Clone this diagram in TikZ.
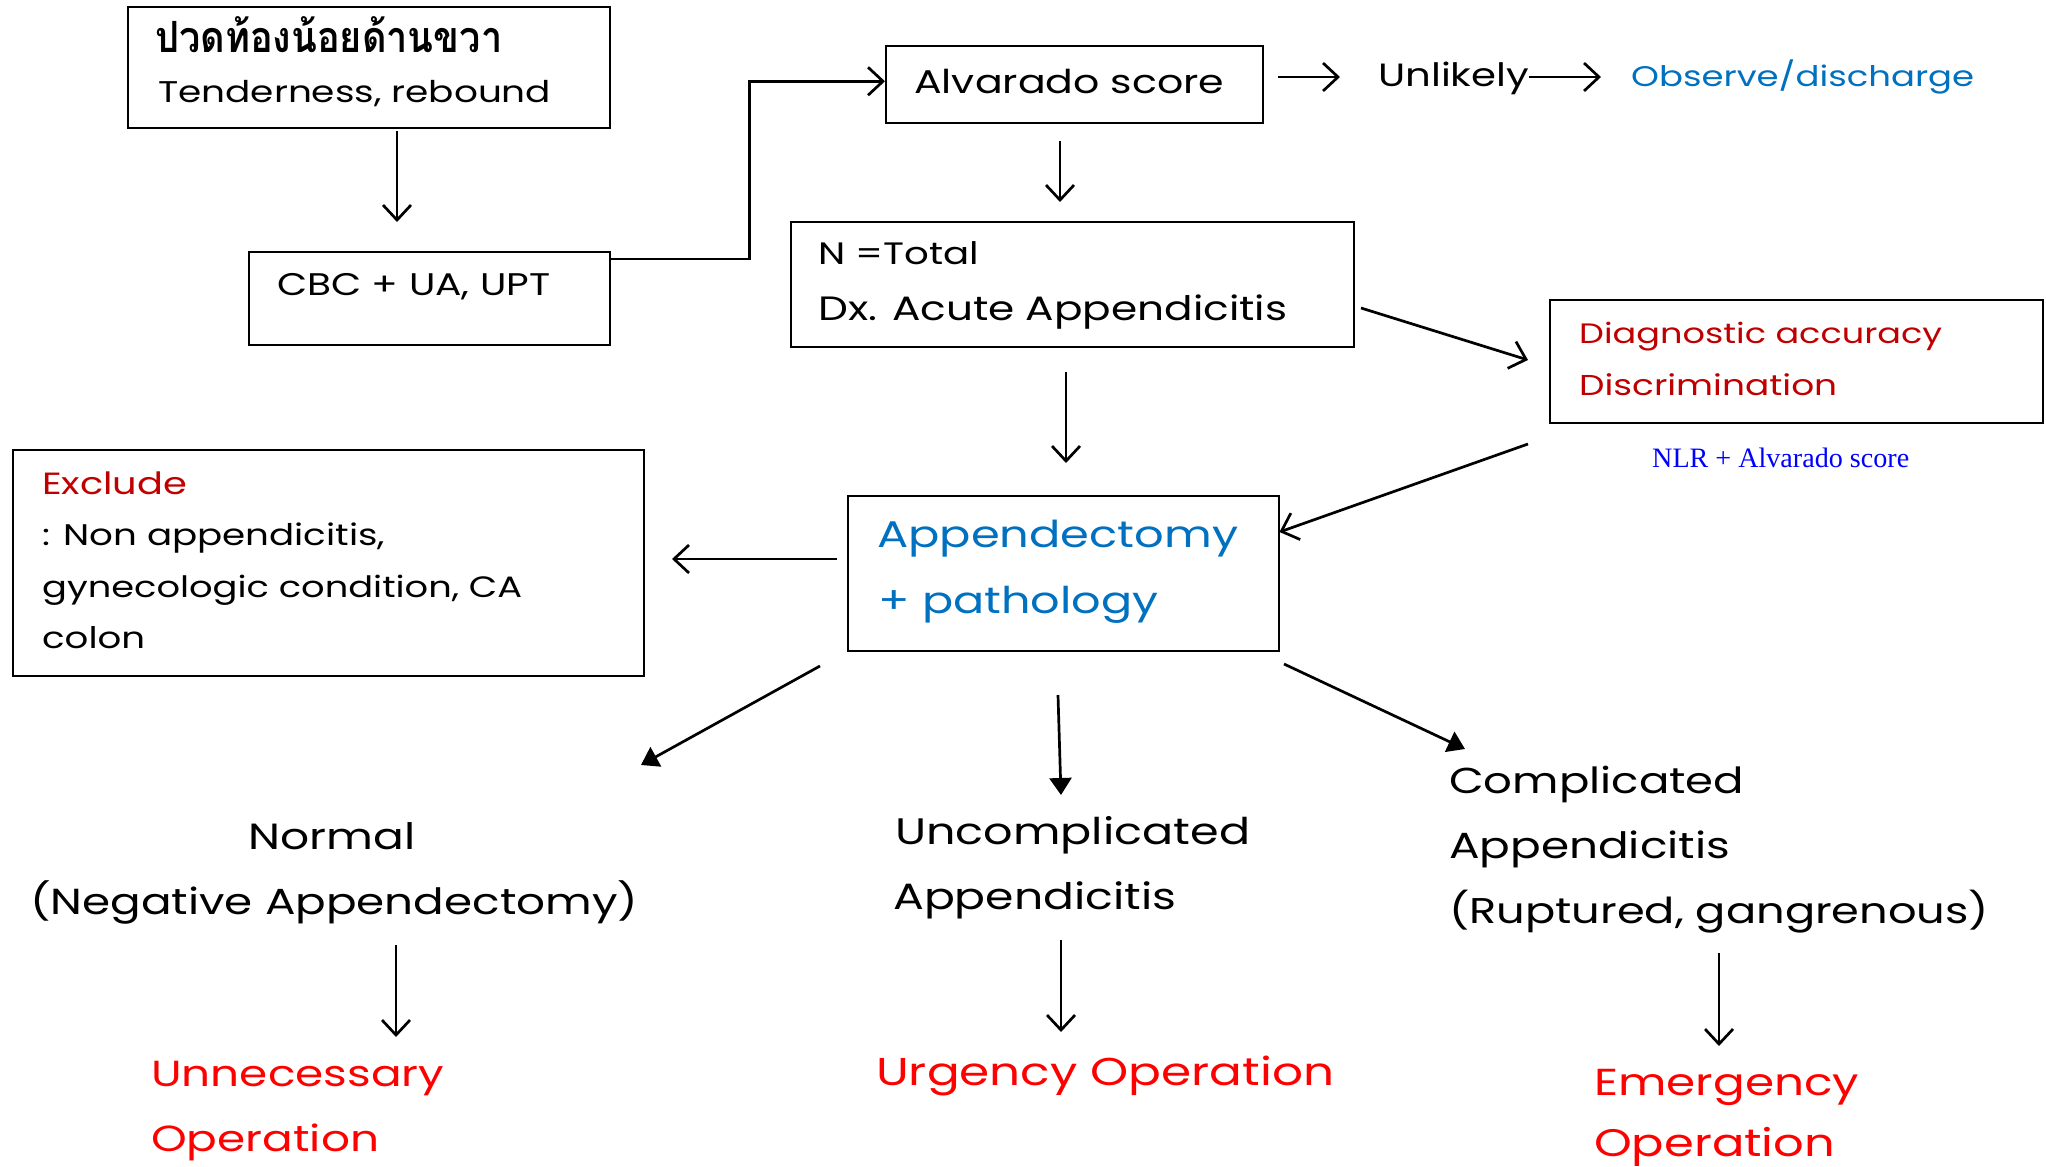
\documentclass[tikz,border=0pt]{standalone}
\usepackage{fontspec}
\setmainfont{Poppins}[FakeStretch=1.25]
\newfontfamily\thaifont[Script=Thai,FakeStretch=0.88]{Loma}
\newfontfamily\nlrfont{Liberation Serif}
\usetikzlibrary{arrows.meta}
\definecolor{oblue}{RGB}{0,112,192}
\definecolor{dred}{RGB}{192,0,0}
\definecolor{bred}{RGB}{255,0,0}
\definecolor{pblue}{RGB}{0,0,255}
\newcommand\fitw[2]{\resizebox{#1pt}{!}{#2}}
\begin{document}
\begin{tikzpicture}[x=1pt,y=-1pt,
  box/.style={draw=black, line width=1.5pt, inner sep=0pt, anchor=north west},
  txt/.style={anchor=base west, inner sep=0pt, font=\fontsize{30}{36}\selectfont},
  arr/.style={line width=2.7pt, -{Straight Barb[length=15pt,width=28pt]}},
  farr/.style={line width=2.7pt, -{Triangle[length=17pt,width=22pt]}}]
\fill[white] (0,0) rectangle (2046,1167);
\useasboundingbox (0,0) rectangle (2046,1167);

% boxes
\node[box, minimum width=482pt, minimum height=121pt] (b1) at (127,6) {};
\node[box, minimum width=361pt, minimum height=93pt] (b2) at (248,251) {};
\node[box, minimum width=377pt, minimum height=77pt] (b3) at (885,45) {};
\node[box, minimum width=563pt, minimum height=125pt] (b4) at (790,221) {};
\node[box, minimum width=493pt, minimum height=123pt] (b5) at (1549,299) {};
\node[box, minimum width=431pt, minimum height=155pt] (b6) at (847,495) {};
\node[box, minimum width=631pt, minimum height=226pt] (b7) at (12,449) {};

% texts
\node[txt] (t1) at (155,52) {\fitw{347}{\thaifont\bfseries ปวดท้องน้อยด้านขวา}};
\node[txt] (t2) at (158,102) {\fitw{393}{Tenderness, rebound}};
\node[txt] (t3) at (277,295) {\fitw{273}{CBC + UA, UPT}};
\node[txt] (t4) at (914,93) {\fitw{310}{Alvarado score}};
\node[txt] (t5) at (1378,86) {\fitw{151}{Unlikely}};
\node[txt, text=oblue] (t6) at (1631,86) {\fitw{343}{Observe/discharge}};
\node[txt] (t7) at (818,264) {\fitw{161}{N =Total}};
\node[txt] (t8) at (818,320) {\fitw{469}{Dx. Acute Appendicitis}};
\node[txt, text=dred] (t9) at (1579,343) {\fitw{363}{Diagnostic accuracy}};
\node[txt, text=dred] (t10) at (1579,395) {\fitw{258}{Discrimination}};
\node[txt, text=pblue] (t11) at (1652,467) {\fitw{257}{\nlrfont NLR + Alvarado score}};
\node[txt, text=oblue] (t12) at (877,547) {\fitw{361}{Appendectomy}};
\node[txt, text=oblue] (t13) at (878,613) {\fitw{280}{+ pathology}};
\node[txt, text=dred] (t14) at (42,494) {\fitw{145}{Exclude}};
\node[txt] (t15) at (42,545) {\fitw{343}{: Non appendicitis,}};
\node[txt] (t16) at (42,597) {\fitw{480}{gynecologic condition, CA}};
\node[txt] (t17) at (42,648) {\fitw{103}{colon}};
\node[txt] (t18) at (248,849) {\fitw{167}{Normal}};
\node[txt] (t19) at (30,914) {\fitw{608}{(Negative Appendectomy)}};
\node[txt, text=bred] (t20) at (151,1086) {\fitw{293}{Unnecessary}};
\node[txt, text=bred] (t21) at (151,1151) {\fitw{228}{Operation}};
\node[txt] (t22) at (895,844) {\fitw{355}{Uncomplicated}};
\node[txt] (t23) at (893,909) {\fitw{283}{Appendicitis}};
\node[txt, text=bred] (t24) at (876,1085) {\fitw{458}{Urgency Operation}};
\node[txt] (t25) at (1449,793) {\fitw{295}{Complicated}};
\node[txt] (t26) at (1449,858) {\fitw{281}{Appendicitis}};
\node[txt] (t27) at (1449,923) {\fitw{540}{(Ruptured, gangrenous)}};
\node[txt, text=bred] (t28) at (1594,1095) {\fitw{265}{Emergency}};
\node[txt, text=bred] (t29) at (1594,1156) {\fitw{241}{Operation}};

% free arrow ends
\coordinate (a1s) at (397,131);  \coordinate (a1e) at (397,222);
\coordinate (a3s) at (1278,77);  \coordinate (a3e) at (1340,77);
\coordinate (a4s) at (1529,77);  \coordinate (a4e) at (1601,77);
\coordinate (a5s) at (1060,141); \coordinate (a5e) at (1060,202);
\coordinate (a6s) at (1361,308); \coordinate (a6e) at (1528,360);
\coordinate (a7s) at (1066,372); \coordinate (a7e) at (1066,463);
\coordinate (a8s) at (1528,444);
\coordinate (a9s) at (837,559);  \coordinate (a9e) at (672,559);
\coordinate (a10s) at (820,666); \coordinate (a10e) at (641,765);
\coordinate (a11s) at (1058,695); \coordinate (a11e) at (1061,795);
\coordinate (a12s) at (1284,664); \coordinate (a12e) at (1465,749);
\coordinate (a13s) at (396,945); \coordinate (a13e) at (396,1037);
\coordinate (a14s) at (1061,940); \coordinate (a14e) at (1061,1032);
\coordinate (a15s) at (1719,953); \coordinate (a15e) at (1719,1046);

% connectors
\draw[arr] (a1s) -- (a1e);
\draw[arr] ([yshift=-8pt]b2.north east) -- ++(139,0) |- ([yshift=3pt]b3.west);
\draw[arr] (a3s) -- (a3e);
\draw[arr] (a4s) -- (a4e);
\draw[arr] (a5s) -- (a5e);
\draw[arr] (a6s) -- (a6e);
\draw[arr] (a7s) -- (a7e);
\draw[arr] (a8s) -- ([yshift=-37pt]b6.north east);
\draw[arr] (a9s) -- (a9e);
\draw[farr] (a10s) -- (a10e);
\draw[farr] (a11s) -- (a11e);
\draw[farr] (a12s) -- (a12e);
\draw[arr] (a13s) -- (a13e);
\draw[arr] (a14s) -- (a14e);
\draw[arr] (a15s) -- (a15e);
\end{tikzpicture}
\end{document}
